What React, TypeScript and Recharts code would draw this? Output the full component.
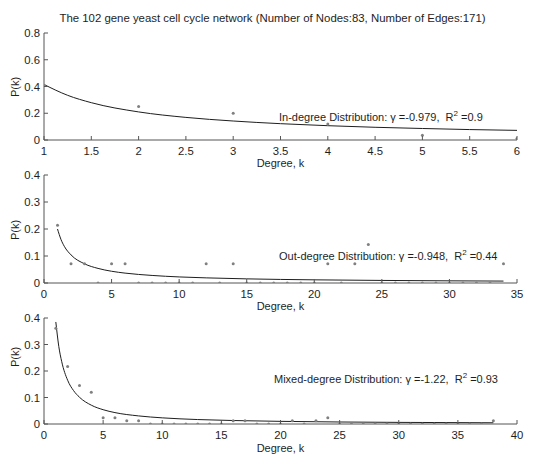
import {ComposedChart, Line, Scatter, XAxis, YAxis} from "recharts";

const FONT = "'Liberation Sans', Arial, Helvetica, sans-serif";
const AXIS = "#555";
const INK = "#1e1e1e";
const DOT = "#808080";

// in-degree
const inK = [1, 2, 3, 4, 5, 6];
const inP = [0.41, 0.25, 0.2, 0.12, 0.036, 0.012];
const inFitK = [1, 1.25, 1.5, 2, 2.5, 3, 3.5, 4, 4.5, 5, 5.5, 6];
const inFitP = [0.415, 0.334, 0.279, 0.21, 0.169, 0.142, 0.122, 0.107, 0.095, 0.086, 0.078, 0.072];

// out-degree
const outK = [
  1, 2, 3, 4, 5, 6, 7, 8, 9, 10, 11, 12, 13, 14, 15, 16, 17,
  18, 19, 20, 21, 22, 23, 24, 25, 26, 27, 28, 29, 30, 31, 32, 33, 34,
];
const outP = [
  0.214, 0.071, 0.071, 0, 0.071, 0.071, 0, 0, 0, 0, 0, 0.071, 0, 0.071, 0, 0, 0,
  0, 0, 0, 0.071, 0, 0.071, 0.143, 0, 0, 0, 0, 0, 0, 0, 0, 0, 0.071,
];
const outFitK = [1, 1.25, 1.5, 2, 3, 4, 5, 6, 8, 10, 12, 15, 20, 25, 30, 34];
const outFitP = [0.2, 0.162, 0.136, 0.104, 0.071, 0.054, 0.0435, 0.0366, 0.028, 0.0225, 0.019, 0.0153, 0.0117, 0.0095, 0.008, 0.0071];

// mixed-degree
const mixK = [
  1, 2, 3, 4, 5, 6, 7, 8, 9, 10, 11, 12, 13, 14, 15, 16, 17, 18, 19,
  20, 21, 22, 23, 24, 25, 26, 27, 28, 29, 30, 31, 32, 33, 34, 35, 36, 37, 38,
];
const mixP = [
  0.361, 0.217, 0.145, 0.12, 0.024, 0.024, 0.012, 0.012, 0, 0, 0, 0, 0, 0, 0, 0.012, 0.012, 0, 0,
  0, 0.012, 0, 0.012, 0.024, 0, 0, 0, 0, 0, 0, 0, 0, 0, 0, 0, 0, 0, 0.012,
];
const mixFitK = [1, 1.25, 1.5, 2, 2.5, 3, 4, 5, 6, 8, 10, 13, 16, 20, 25, 30, 38];
const mixFitP = [0.385, 0.293, 0.235, 0.165, 0.126, 0.101, 0.071, 0.054, 0.043, 0.0305, 0.0232, 0.0168, 0.0131, 0.01, 0.0076, 0.0061, 0.0046];

const ticks1 = [1, 1.5, 2, 2.5, 3, 3.5, 4, 4.5, 5, 5.5, 6];
const ticks2 = [0, 5, 10, 15, 20, 25, 30, 35];
const ticks3 = [0, 5, 10, 15, 20, 25, 30, 35, 40];
const yTicksA = [0, 0.2, 0.4, 0.6, 0.8];
const yTicksB = [0, 0.1, 0.2, 0.3, 0.4];

const pts = (ks: number[], ps: number[]) => ks.map((k, i) => ({k, p: ps[i]}));
const fit = (ks: number[], ps: number[]) => ks.map((k, i) => ({k, fit: ps[i]}));

function XTick(props: any) {
  const {x, y, payload} = props;
  return (
    <g>
      <line x1={x} y1={y} x2={x} y2={y - 4} stroke={AXIS} />
      <text x={x} y={y + 14.5} textAnchor="middle" fontSize={11.3} fill={INK} fontFamily={FONT}>
        {payload.value}
      </text>
    </g>
  );
}

function YTick(props: any) {
  const {x, y, payload} = props;
  return (
    <g>
      <line x1={x} y1={y} x2={x + 4} y2={y} stroke={AXIS} />
      <text x={x - 4} y={y + 4} textAnchor="end" fontSize={11.3} fill={INK} fontFamily={FONT}>
        {payload.value}
      </text>
    </g>
  );
}

function Dot(props: any) {
  return <circle cx={props.cx} cy={props.cy} r={1.5} fill={DOT} />;
}

type PanelProps = {
  top: number;
  height: number;
  marginTop: number;
  xDomain: [number, number];
  xTicks: number[];
  yMax: number;
  yTicks: number[];
  points: {k: number; p: number}[];
  curve: {k: number; fit: number}[];
};

function Panel({top, height, marginTop, xDomain, xTicks, yMax, yTicks, points, curve}: PanelProps) {
  return (
    <div style={{position: "absolute", left: 0, top}}>
      <ComposedChart width={551} height={height} margin={{top: marginTop, right: 34, bottom: 0, left: 0}}>
        <XAxis
          type="number"
          dataKey="k"
          domain={xDomain}
          ticks={xTicks}
          interval={0}
          allowDataOverflow
          height={30}
          tickSize={0}
          tickMargin={0}
          tickLine={false}
          axisLine={{stroke: AXIS}}
          tick={<XTick />}
        />
        <YAxis
          type="number"
          domain={[0, yMax]}
          ticks={yTicks}
          interval={0}
          allowDataOverflow
          width={44}
          tickSize={0}
          tickMargin={0}
          tickLine={false}
          axisLine={{stroke: AXIS}}
          tick={<YTick />}
        />
        <Line
          data={curve}
          dataKey="fit"
          type="monotoneX"
          stroke={INK}
          strokeWidth={1}
          dot={false}
          activeDot={false}
          isAnimationActive={false}
        />
        <Scatter data={points} dataKey="p" shape={<Dot />} isAnimationActive={false} />
      </ComposedChart>
    </div>
  );
}

function Note({x, y, name, gamma, r2}: {x: number; y: number; name: string; gamma: string; r2: string}) {
  return (
    <text x={x} y={y} fontSize={11} fill={INK} fontFamily={FONT} style={{whiteSpace: "pre"}}>
      {`${name} Distribution: \u03b3 =${gamma},  R`}
      <tspan dy={-5} fontSize={8}>2</tspan>
      <tspan dy={5}>{` =${r2}`}</tspan>
    </text>
  );
}

export default function App() {
  return (
    <div style={{position: "absolute", left: 0, top: 0, width: 551, height: 455, background: "#fff"}}>
      <Panel
        top={0}
        height={170}
        marginTop={33}
        xDomain={[1, 6]}
        xTicks={ticks1}
        yMax={0.8}
        yTicks={yTicksA}
        points={pts(inK, inP)}
        curve={fit(inFitK, inFitP)}
      />
      <Panel
        top={150}
        height={163}
        marginTop={25}
        xDomain={[0, 35]}
        xTicks={ticks2}
        yMax={0.4}
        yTicks={yTicksB}
        points={pts(outK, outP)}
        curve={fit(outFitK, outFitP)}
      />
      <Panel
        top={300}
        height={154}
        marginTop={18}
        xDomain={[0, 40]}
        xTicks={ticks3}
        yMax={0.4}
        yTicks={yTicksB}
        points={pts(mixK, mixP)}
        curve={fit(mixFitK, mixFitP)}
      />
      <svg width={551} height={455} style={{position: "absolute", left: 0, top: 0, pointerEvents: "none"}}>
        <text x={272.5} y={22} textAnchor="middle" fontSize={11.4} fill={INK} fontFamily={FONT}>
          The 102 gene yeast cell cycle network (Number of Nodes:83, Number of Edges:171)
        </text>
        {[87, 230, 357].map((cy) => (
          <text
            key={cy}
            x={15}
            y={cy}
            transform={`rotate(-90 15 ${cy})`}
            textAnchor="middle"
            dominantBaseline="central"
            fontSize={11}
            fill={INK}
            fontFamily={FONT}
          >
            P(k)
          </text>
        ))}
        {[163, 306, 448].map((cy) => (
          <text key={cy} x={280.5} y={cy + 4} textAnchor="middle" fontSize={11} fill={INK} fontFamily={FONT}>
            Degree, k
          </text>
        ))}
        <Note x={279} y={121} name="In-degree" gamma="-0.979" r2="0.9" />
        <Note x={279} y={260} name="Out-degree" gamma="-0.948" r2="0.44" />
        <Note x={274} y={383} name="Mixed-degree" gamma="-1.22" r2="0.93" />
      </svg>
    </div>
  );
}
